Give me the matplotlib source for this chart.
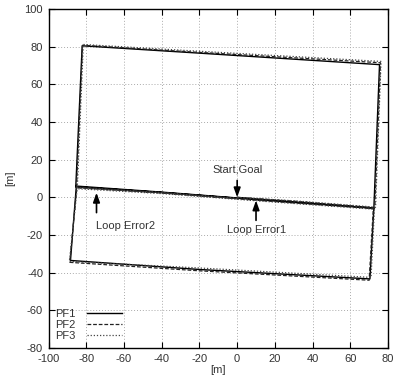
import matplotlib
matplotlib.use("Agg")
import matplotlib.pyplot as plt

plt.rcParams['font.family'] = ['Liberation Sans', 'DejaVu Sans']
plt.rcParams['font.size'] = 8
plt.rcParams['axes.unicode_minus'] = False

# Trajectory vertices (x, y in metres) for each particle filter
pf1_x = [0, -40, -85.3, -88.4, -20, 70.4, 72.5, 10, -40, -85.6, -82.2, -20, 75.5, 72.5, 30, 0]
pf1_y = [-0.3, 2.8, 6.0, -33.5, -38.3, -43.3, -5.7, -1.2, 2.6, 5.6, 80.5, 76.6, 70.5, -5.7, -2.4, 0]

pf2_x = [0, -40, -85.0, -88.8, -20, 70.0, 72.2, 10, -40, -85.2, -82.0, -20, 76.0, 73.0, 30, 0]
pf2_y = [-0.6, 2.5, 5.5, -34.5, -39.0, -44.0, -6.0, -1.5, 2.3, 5.2, 80.8, 77.0, 71.5, -5.5, -2.0, 0]

pf3_x = [0, -40, -84.8, -89.0, -20, 71.0, 72.8, 10, -40, -84.8, -81.6, -20, 76.3, 73.4, 30, 0]
pf3_y = [-0.5, 2.6, 5.0, -34.0, -37.5, -42.5, -6.3, -1.8, 2.0, 4.6, 81.2, 77.6, 72.2, -5.2, -1.8, 0]

x_ticks = [-100, -80, -60, -40, -20, 0, 20, 40, 60, 80]
y_ticks = [-80, -60, -40, -20, 0, 20, 40, 60, 80, 100]

fig = plt.figure(figsize=(3.93, 3.77), dpi=100)
ax = fig.add_axes([0.1237, 0.0769, 0.8636, 0.899])

ax.plot(pf1_x, pf1_y, color='black', lw=1.0, ls='-', label='PF1')
ax.plot(pf2_x, pf2_y, color='#222222', lw=0.9, ls=(0, (3, 1.5)), label='PF2')
ax.plot(pf3_x, pf3_y, color='#444444', lw=0.9, ls=(0, (1, 1.5)), label='PF3')

ax.set_xlim(-100, 80)
ax.set_ylim(-80, 100)
ax.set_xticks(x_ticks)
ax.set_yticks(y_ticks)
ax.grid(True, color='#aaaaaa', ls=(0, (1, 2)), lw=0.7)
ax.tick_params(direction='in', top=True, right=True, length=4, width=0.8, pad=4,
               labelcolor='#333333')
for s in ax.spines.values():
    s.set_linewidth(1.0)

ax.set_xlabel('[m]', labelpad=1, color='#333333')
ax.set_ylabel('[m]', labelpad=7, color='#333333')

arrow = dict(arrowstyle='-|>,head_length=0.7,head_width=0.25', color='black', lw=1.2,
             shrinkA=0, shrinkB=0)
ax.annotate('', xy=(0, 0), xytext=(0, 9), arrowprops=arrow)
ax.text(0, 14.9, 'Start,Goal', ha='center', va='center', color='#333333')
ax.annotate('', xy=(10, -1.6), xytext=(10, -12.2), arrowprops=arrow)
ax.text(10.2, -17.2, 'Loop Error1', ha='center', va='center', color='#333333')
ax.annotate('', xy=(-74.6, 2.5), xytext=(-74.6, -8.1), arrowprops=arrow)
ax.text(-75, -15.3, 'Loop Error2', ha='left', va='center', color='#333333')

leg = ax.legend(loc='lower left', frameon=False, markerfirst=False, handlelength=3.2,
                borderaxespad=0.2, labelspacing=0.1, handletextpad=1.0,
                bbox_to_anchor=(0.0, 0.0))
for t in leg.get_texts():
    t.set_color('#333333')

fig.savefig('out.png', dpi=100)
